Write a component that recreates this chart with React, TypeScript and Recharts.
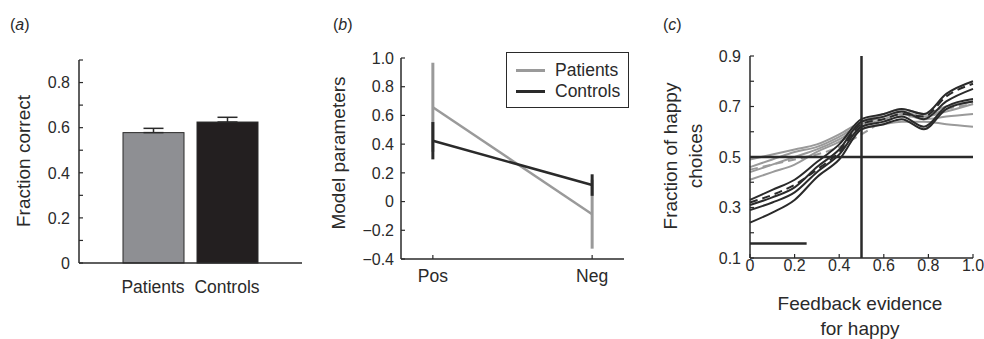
import {
  Bar,
  BarChart,
  ErrorBar,
  Legend,
  Line,
  LineChart,
  ReferenceLine,
  XAxis,
  YAxis,
} from "recharts";

const FONT = "'Liberation Sans', Arial, Helvetica, sans-serif";
const INK = "#2a2a2a";
const GREY = "#8e8f93";
const LIGHT = "#9a9a9a";

// (a) accuracy per group
const groups = ["Patients", "Controls"];
const fractionCorrect = [0.578, 0.625];
const fractionErr = [0.019, 0.021];
const fractionTicks = [0, 0.1, 0.2, 0.3, 0.4, 0.5, 0.6, 0.7, 0.8, 0.9];
const fractionLabels = [0, 0.2, 0.4, 0.6, 0.8];

// (b) model parameters
const paramNames = ["Pos", "Neg"];
const patientParams = [0.657, -0.088];
const patientParamErr = [0.31, 0.24];
const controlParams = [0.424, 0.115];
const controlParamErr = [0.13, 0.075];
const paramTicks = [-0.4, -0.2, 0, 0.2, 0.4, 0.6, 0.8, 1.0];

// (c) psychometric curves
const evidence = [0, 0.1, 0.2, 0.3, 0.4, 0.5, 0.6, 0.68, 0.78, 0.88, 1.0];
const control1 = [0.33, 0.37, 0.41, 0.48, 0.55, 0.65, 0.67, 0.69, 0.67, 0.75, 0.8];
const control2 = [0.31, 0.34, 0.38, 0.46, 0.53, 0.64, 0.66, 0.68, 0.65, 0.72, 0.77];
const control3 = [0.29, 0.32, 0.36, 0.44, 0.51, 0.62, 0.64, 0.66, 0.62, 0.7, 0.73];
const control4 = [0.24, 0.28, 0.33, 0.42, 0.49, 0.61, 0.63, 0.65, 0.61, 0.69, 0.72];
const controlMean = [0.32, 0.35, 0.39, 0.45, 0.52, 0.63, 0.65, 0.67, 0.66, 0.74, 0.79];
const patient1 = [0.49, 0.51, 0.53, 0.55, 0.59, 0.64, 0.67, 0.69, 0.67, 0.7, 0.72];
const patient2 = [0.46, 0.49, 0.52, 0.54, 0.58, 0.63, 0.66, 0.68, 0.66, 0.68, 0.71];
const patient3 = [0.44, 0.47, 0.5, 0.53, 0.57, 0.62, 0.65, 0.67, 0.65, 0.66, 0.67];
const patient4 = [0.41, 0.44, 0.47, 0.52, 0.56, 0.61, 0.63, 0.64, 0.64, 0.63, 0.62];
const patientMean = [0.45, 0.47, 0.49, 0.51, 0.54, 0.59, 0.64, 0.66, 0.66, 0.69, 0.71];
const happyTicks = [0.1, 0.2, 0.3, 0.4, 0.5, 0.6, 0.7, 0.8, 0.9];
const happyLabels = [0.1, 0.3, 0.5, 0.7, 0.9];
const evidenceTicks = [0, 0.2, 0.4, 0.6, 0.8, 1.0];
const chance = 0.5;
const scaleBarY = 0.157;
const scaleBarEnd = 0.254;

const barData = groups.map((g, i) => ({
  name: g,
  value: fractionCorrect[i],
  err: [0, fractionErr[i]],
}));

const paramData = paramNames.map((n, i) => ({
  x: i,
  patients: patientParams[i],
  patientsErr: patientParamErr[i],
  controls: controlParams[i],
  controlsErr: controlParamErr[i],
}));

const curveData = evidence.map((x, i) => ({
  x,
  c1: control1[i],
  c2: control2[i],
  c3: control3[i],
  c4: control4[i],
  cm: controlMean[i],
  p1: patient1[i],
  p2: patient2[i],
  p3: patient3[i],
  p4: patient4[i],
  pm: patientMean[i],
}));

const fmtNum = (v: number) => {
  if (v === 0) return "0";
  const s = v.toFixed(1);
  return v < 0 ? "\u2212" + s.slice(1) : s;
};

// left axis tick: short mark pointing into the plot, label on the left
function InLeftTick(props: any) {
  const { x, y, payload, gap, labels } = props;
  const ax = x + gap;
  const v = payload.value;
  const show = labels.some((l: number) => Math.abs(l - v) < 1e-6);
  return (
    <g>
      <line x1={ax} x2={ax + 4} y1={y} y2={y} stroke={INK} strokeWidth={1.2} />
      {show && (
        <text
          x={x}
          y={y}
          dy="0.36em"
          textAnchor="end"
          fontSize={16}
          fill={INK}
          fontFamily={FONT}
        >
          {fmtNum(v)}
        </text>
      )}
    </g>
  );
}

// bottom axis tick: short mark pointing up into the plot, label below
function InBottomTick(props: any) {
  const { x, y, payload, gap, fmt, size } = props;
  const ay = y - gap;
  return (
    <g>
      <line x1={x} x2={x} y1={ay} y2={ay - 4} stroke={INK} strokeWidth={1.2} />
      <text
        x={x}
        y={y}
        dy="0.71em"
        textAnchor="middle"
        fontSize={size}
        fill={INK}
        fontFamily={FONT}
      >
        {fmt(payload.value)}
      </text>
    </g>
  );
}

function ParamLegend() {
  const rows = [
    { label: "Patients", color: LIGHT },
    { label: "Controls", color: INK },
  ];
  return (
    <div
      style={{
        width: 123,
        height: 56,
        boxSizing: "border-box",
        border: `1.5px solid ${INK}`,
        background: "#fff",
        paddingTop: 7,
      }}
    >
      {rows.map((r) => (
        <div
          key={r.label}
          style={{ display: "flex", alignItems: "center", height: 21 }}
        >
          <div
            style={{
              marginLeft: 9,
              width: 29,
              height: 3,
              background: r.color,
            }}
          />
          <span
            style={{
              marginLeft: 10,
              fontSize: 17.5,
              fontFamily: FONT,
              color: INK,
            }}
          >
            {r.label}
          </span>
        </div>
      ))}
    </div>
  );
}

const axisLine = { stroke: INK, strokeWidth: 1.5 };

function Title({ x, y, letter }: { x: number; y: number; letter: string }) {
  return (
    <div
      style={{
        position: "absolute",
        left: x,
        top: y,
        fontSize: 16,
        lineHeight: "16px",
        fontFamily: FONT,
        color: INK,
      }}
    >
      (<i>{letter}</i>)
    </div>
  );
}

function VTitle({ cx, cy, lines }: { cx: number; cy: number; lines: string[] }) {
  return (
    <div
      style={{
        position: "absolute",
        left: cx,
        top: cy,
        transform: "translate(-50%, -50%) rotate(-90deg)",
        whiteSpace: "nowrap",
        textAlign: "center",
        fontSize: 19,
        lineHeight: "25px",
        fontFamily: FONT,
        color: INK,
      }}
    >
      {lines.map((l) => (
        <div key={l}>{l}</div>
      ))}
    </div>
  );
}

export default function App() {
  return (
    <div
      style={{
        position: "absolute",
        left: 0,
        top: 0,
        width: 984,
        height: 339,
        background: "#fff",
        overflow: "hidden",
      }}
    >
      {/* (a) */}
      <div style={{ position: "absolute", left: 0, top: 0 }}>
        <BarChart
          width={330}
          height={339}
          data={barData}
          margin={{ top: 60, right: 28, bottom: 46, left: 0 }}
        >
          <XAxis
            dataKey="name"
            height={30}
            axisLine={axisLine}
            tickLine={false}
            tickMargin={12}
            padding={{ left: 37, right: 38 }}
            tick={{ fontSize: 17.5, fill: INK, fontFamily: FONT }}
          />
          <YAxis
            width={79}
            domain={[0, 0.9]}
            ticks={fractionTicks}
            interval={0}
            axisLine={axisLine}
            tickLine={false}
            tickSize={0}
            tickMargin={9}
            tick={(p: any) => (
              <InLeftTick {...p} gap={9} labels={fractionLabels} />
            )}
          />
          <Bar
            dataKey="value"
            barSize={61}
            isAnimationActive={false}
            stroke={INK}
            strokeWidth={1}
            shape={(p: any) => (
              <rect
                x={p.x}
                y={p.y}
                width={p.width}
                height={p.height}
                fill={p.index === 0 ? GREY : "#231f20"}
                stroke={INK}
                strokeWidth={1}
              />
            )}
          >
            <ErrorBar
              dataKey="err"
              width={10}
              strokeWidth={1.5}
              stroke={INK}
              direction="y"
            />
          </Bar>
        </BarChart>
      </div>

      {/* (b) */}
      <div style={{ position: "absolute", left: 330, top: 0 }}>
        <LineChart
          width={330}
          height={339}
          data={paramData}
          margin={{ top: 58, right: 36, bottom: 50, left: 0 }}
        >
          <XAxis
            dataKey="x"
            type="number"
            domain={[-0.2, 1.2]}
            ticks={[0, 1]}
            height={30}
            axisLine={axisLine}
            tickLine={false}
            tickSize={0}
            tickMargin={11}
            tick={(p: any) => (
              <InBottomTick
                {...p}
                gap={11}
                size={17.5}
                fmt={(v: number) => paramNames[v]}
              />
            )}
          />
          <YAxis
            width={71}
            domain={[-0.4, 1.0]}
            ticks={paramTicks}
            interval={0}
            axisLine={axisLine}
            tickLine={false}
            tickSize={0}
            tickMargin={7}
            tick={(p: any) => <InLeftTick {...p} gap={7} labels={paramTicks} />}
          />
          <Legend
            layout="horizontal"
            verticalAlign="middle"
            align="center"
            wrapperStyle={{ left: 176, top: 52, width: 123, height: 56 }}
            content={() => <ParamLegend />}
          />
          <Line
            dataKey="patients"
            stroke={LIGHT}
            strokeWidth={2.5}
            dot={false}
            isAnimationActive={false}
          >
            <ErrorBar
              dataKey="patientsErr"
              width={0}
              strokeWidth={3}
              stroke={LIGHT}
              direction="y"
            />
          </Line>
          <Line
            dataKey="controls"
            stroke={INK}
            strokeWidth={2.5}
            dot={false}
            isAnimationActive={false}
          >
            <ErrorBar
              dataKey="controlsErr"
              width={0}
              strokeWidth={3}
              stroke={INK}
              direction="y"
            />
          </Line>
        </LineChart>
      </div>

      {/* (c) */}
      <div style={{ position: "absolute", left: 660, top: 0 }}>
        <LineChart
          width={324}
          height={339}
          data={curveData}
          margin={{ top: 56, right: 11, bottom: 51, left: 0 }}
        >
          <XAxis
            dataKey="x"
            type="number"
            domain={[0, 1]}
            ticks={evidenceTicks}
            interval={0}
            height={30}
            axisLine={axisLine}
            tickLine={false}
            tickSize={0}
            tickMargin={2}
            tick={(p: any) => (
              <InBottomTick {...p} gap={2} size={16} fmt={fmtNum} />
            )}
          />
          <YAxis
            width={90}
            domain={[0.1, 0.9]}
            ticks={happyTicks}
            interval={0}
            axisLine={axisLine}
            tickLine={false}
            tickSize={0}
            tickMargin={9}
            tick={(p: any) => (
              <InLeftTick {...p} gap={9} labels={happyLabels} />
            )}
          />
          {(["p1", "p2", "p3", "p4"] as const).map((k) => (
            <Line
              key={k}
              dataKey={k}
              type="monotone"
              stroke={LIGHT}
              strokeWidth={2}
              dot={false}
              isAnimationActive={false}
            />
          ))}
          <Line
            dataKey="pm"
            type="monotone"
            stroke={LIGHT}
            strokeWidth={2}
            strokeDasharray="8 5"
            dot={false}
            isAnimationActive={false}
          />
          {(["c1", "c2", "c3", "c4"] as const).map((k) => (
            <Line
              key={k}
              dataKey={k}
              type="monotone"
              stroke={INK}
              strokeWidth={2}
              dot={false}
              isAnimationActive={false}
            />
          ))}
          <Line
            dataKey="cm"
            type="monotone"
            stroke={INK}
            strokeWidth={2}
            strokeDasharray="8 5"
            dot={false}
            isAnimationActive={false}
          />
          <ReferenceLine y={chance} stroke={INK} strokeWidth={2.5} />
          <ReferenceLine x={chance} stroke={INK} strokeWidth={2.5} />
          <ReferenceLine
            segment={[
              { x: 0, y: scaleBarY },
              { x: scaleBarEnd, y: scaleBarY },
            ]}
            stroke={INK}
            strokeWidth={2.5}
          />
        </LineChart>
      </div>

      <Title x={10} y={17} letter="a" />
      <Title x={333} y={17} letter="b" />
      <Title x={663} y={17} letter="c" />

      <VTitle cx={23} cy={161} lines={["Fraction correct"]} />
      <VTitle cx={338} cy={153} lines={["Model parameters"]} />
      <VTitle cx={683} cy={156} lines={["Fraction of happy", "choices"]} />

      <div
        style={{
          position: "absolute",
          left: 860,
          top: 316,
          transform: "translate(-50%, -50%)",
          whiteSpace: "nowrap",
          textAlign: "center",
          fontSize: 19,
          lineHeight: "25px",
          fontFamily: FONT,
          color: INK,
        }}
      >
        <div>Feedback evidence</div>
        <div>for happy</div>
      </div>
    </div>
  );
}
